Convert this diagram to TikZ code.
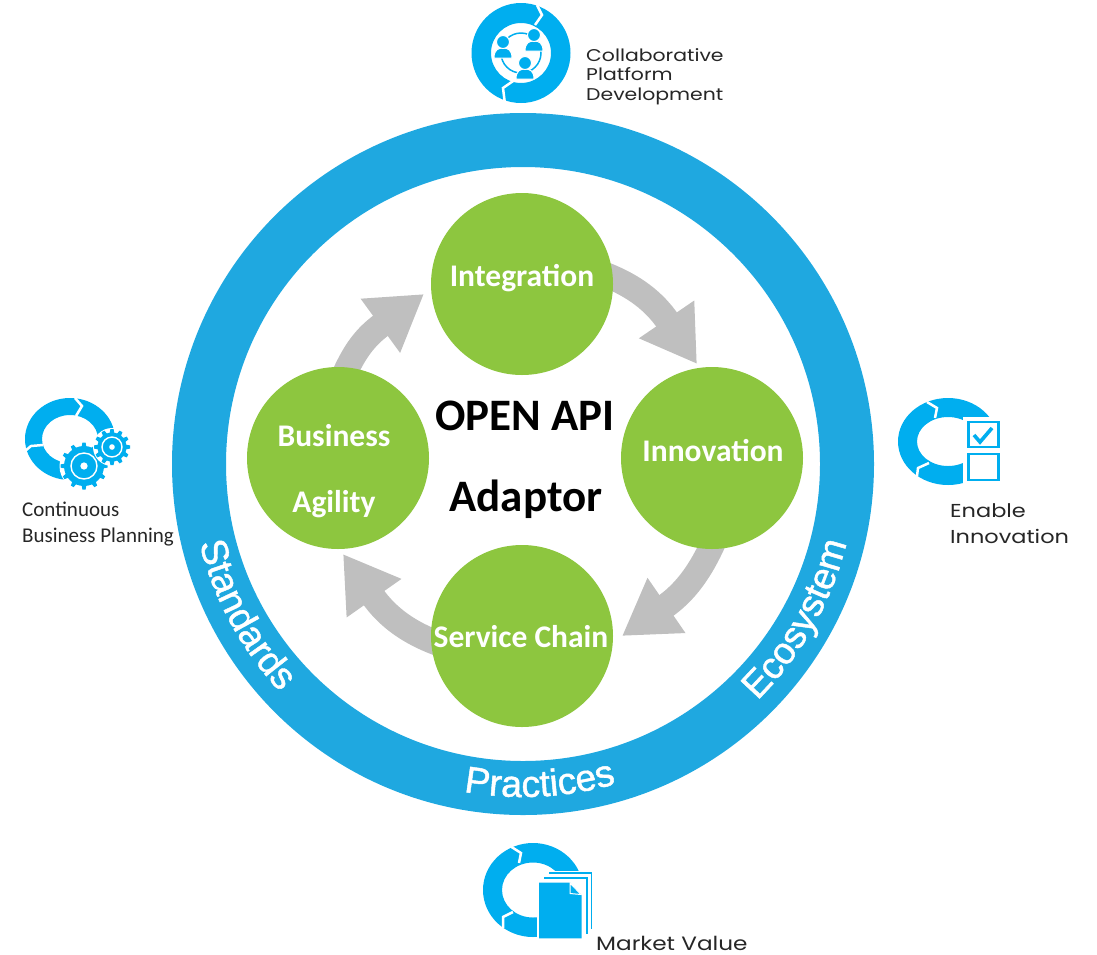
\documentclass[tikz,border=0pt]{standalone}
\usepackage{fontspec}
\setmainfont{Carlito}
\newfontfamily\ringfont[FakeBold=1.2]{Liberation Sans}
\newfontfamily\widefont[FakeStretch=1.2]{Poppins}
\usetikzlibrary{arrows.meta,decorations.text,backgrounds}
\definecolor{ringblue}{HTML}{1FA8E0}
\definecolor{iconblue}{HTML}{00AEEF}
\definecolor{leaf}{HTML}{8DC63F}
\definecolor{flowgray}{HTML}{BFBFBF}
\tikzset{
  hub/.style={circle,fill=leaf,minimum size=182pt,inner sep=0pt},
  hubtext/.style={text=white,font=\fontsize{31.5}{66}\selectfont\bfseries,align=center,inner sep=0pt,anchor=base},
  flow/.style={draw=flowgray,line width=25pt,shorten <=-8pt,-{Triangle[length=54pt,width=63pt,fill=flowgray]}},
  title/.style={font=\fontsize{45}{48}\selectfont\bfseries,text=black,inner sep=0pt,anchor=base},
  widelabel/.style={font=\widefont\fontsize{17}{19.5}\selectfont,text=black!85,align=left,inner sep=0pt,anchor=base west},
  widelabelb/.style={font=\widefont\fontsize{18.7}{26}\selectfont,text=black!85,align=left,inner sep=0pt,anchor=base west},
  marketlabel/.style={font=\widefont\fontsize{19.3}{26}\selectfont,text=black!85,align=left,inner sep=0pt,anchor=base west},
  thinlabel/.style={font=\fontsize{21}{25.5}\selectfont,text=black!85,align=left,inner sep=0pt,anchor=base west},
  gap/.style={draw=white,line width=2.5pt},
  person/.style={fill=iconblue,draw=white,line width=1pt},
  ringcap/.style={decorate,decoration={text along path,text align=center,text={|\ringfont\fontsize{37.5}{40}\selectfont\color{white}|#1}}}
}
\newcommand{\iconring}[6]{\fill[iconblue,even odd rule] (#1,#2) ellipse[x radius=#3,y radius=#4] ellipse[x radius=#5,y radius=#6];}
\newcommand{\gearicon}[4]{% x y body-radius ring-radius
  \fill[white] (#1,#2) circle[radius=#3+4.5];
  \foreach \a in {0,30,...,330}{
    \fill[iconblue,shift={(#1,#2)},rotate=\a] (#3-1,-2.4) -- (#3+3.5,-1.6) -- (#3+3.5,1.6) -- (#3-1,2.4) -- cycle;}
  \fill[iconblue] (#1,#2) circle[radius=#3];
  \draw[white,line width=1.4pt] (#1,#2) circle[radius=#4];
  \fill[white] (#1,#2) circle[radius=#4*0.28];
}
\newcommand{\personicon}[2]{%
  \fill[person] (#1-9,#2+16) .. controls (#1-9,#2+8) and (#1-5,#2+6) .. (#1,#2+6) .. controls (#1+5,#2+6) and (#1+9,#2+8) .. (#1+9,#2+16) -- cycle;
  \fill[person] (#1,#2) circle[radius=6.5];
}
\begin{document}
\begin{tikzpicture}[x=1pt,y=-1pt]
\useasboundingbox (0,0) rectangle (1097,954);
% main ring
\draw[ringblue,line width=54pt] (523,464) circle[radius=324];
\path[ringcap={Standards}] (523,464) ++(176.5:333) arc[start angle=176.5,end angle=126.5,radius=333];
\path[ringcap={Ecosystem}] (523,464) ++(54.5:333) arc[start angle=54.5,end angle=4.5,radius=333];
\path[ringcap={Practices}] (523,464) ++(112:333) arc[start angle=112,end angle=62,radius=333];
% hubs
\node[hub] (integ) at (522,284) {};
\node[hub] (innov) at (712,458) {};
\node[hub] (svc) at (522,636) {};
\node[hub] (biz) at (338,458) {};
\node[hubtext] (integt) at (522,286) {Integration};
\node[hubtext] (innovt) at (713,461) {Innovation};
\node[hubtext] (svct) at (521,647) {Service Chain};
\node[hubtext] (bizt1) at (334,446) {Business};
\node[hubtext] (bizt2) at (334,512) {Agility};
% flows
\begin{scope}[on background layer]
\draw[flow] (integ.4) .. controls (634,286) and (654,301) .. (697,364);
\draw[flow] (innov.-91) .. controls (701,570) and (686,592) .. (622,636);
\draw[flow] (svc.183) .. controls (410,633) and (388,618) .. (343,554);
\draw[flow] (biz.84) .. controls (355,351) and (365,337) .. (424,294);
\end{scope}
% titles
\node[title] (open) at (525,430) {OPEN API};
\node[title] (adaptor) at (526,511) {Adaptor};
% top icon
\iconring{521}{53}{49.5}{50}{30}{30}
\draw[gap] (537,5) -- (542,15) -- (535,25);
\draw[gap] (516,79) -- (503,88) -- (505,104);
\draw[iconblue,line width=1.5pt] (521,53) circle[radius=20];
\personicon{503}{42}
\personicon{534}{35}
\personicon{525}{63}
\node[widelabel] (collab) at (586,100) {Collaborative\\Platform\\Development};
% left icon
\iconring{70}{439}{45}{41}{28}{24}
\draw[gap] (75,398) -- (82,406) -- (76,416);
\draw[gap] (25,451) -- (31,446) -- (43,445);
\gearicon{84}{466}{20}{13}
\gearicon{112}{447}{14.5}{10}
\node[thinlabel] (contin) at (22,542) {Continuous\\Business Planning};
% right icon
\iconring{948}{441.5}{50}{43.5}{31}{24.5}
\draw[gap] (927,402) -- (937,408) -- (935,418);
\draw[gap] (917,476) -- (918,468) -- (929,463);
\fill[white] (963,417) rectangle (1003,490);
\draw[iconblue,line width=2.4pt] (968.3,421.7) rectangle (998.3,446.7);
\draw[iconblue,line width=2.4pt] (968.3,454) rectangle (998.3,480);
\draw[iconblue,line width=3.6pt] (974,435) -- (980,442) -- (992,428);
\node[widelabelb] (enable) at (950,543) {Enable\\Innovation};
% bottom icon
\iconring{533}{890}{50}{47}{31}{27.5}
\draw[gap] (510,846) -- (521,853) -- (519,863);
\draw[gap] (503,928) -- (503,917) -- (513,912);
\fill[white] (537,871) rectangle (596,942);
\draw[iconblue,line width=1.4pt] (549,873) -- (591.5,873) -- (591.5,929);
\draw[iconblue,line width=1.4pt] (544,878) -- (587,878) -- (587,934);
\fill[iconblue] (539,882.7) -- (570,882.7) -- (581.7,895) -- (581.7,938.3) -- (539,938.3) -- cycle;
\draw[white,line width=1pt] (570,883) -- (570,893.5) -- (581,894.5) -- cycle;
\node[marketlabel] (market) at (596,950) {Market Value};
\end{tikzpicture}
\end{document}
